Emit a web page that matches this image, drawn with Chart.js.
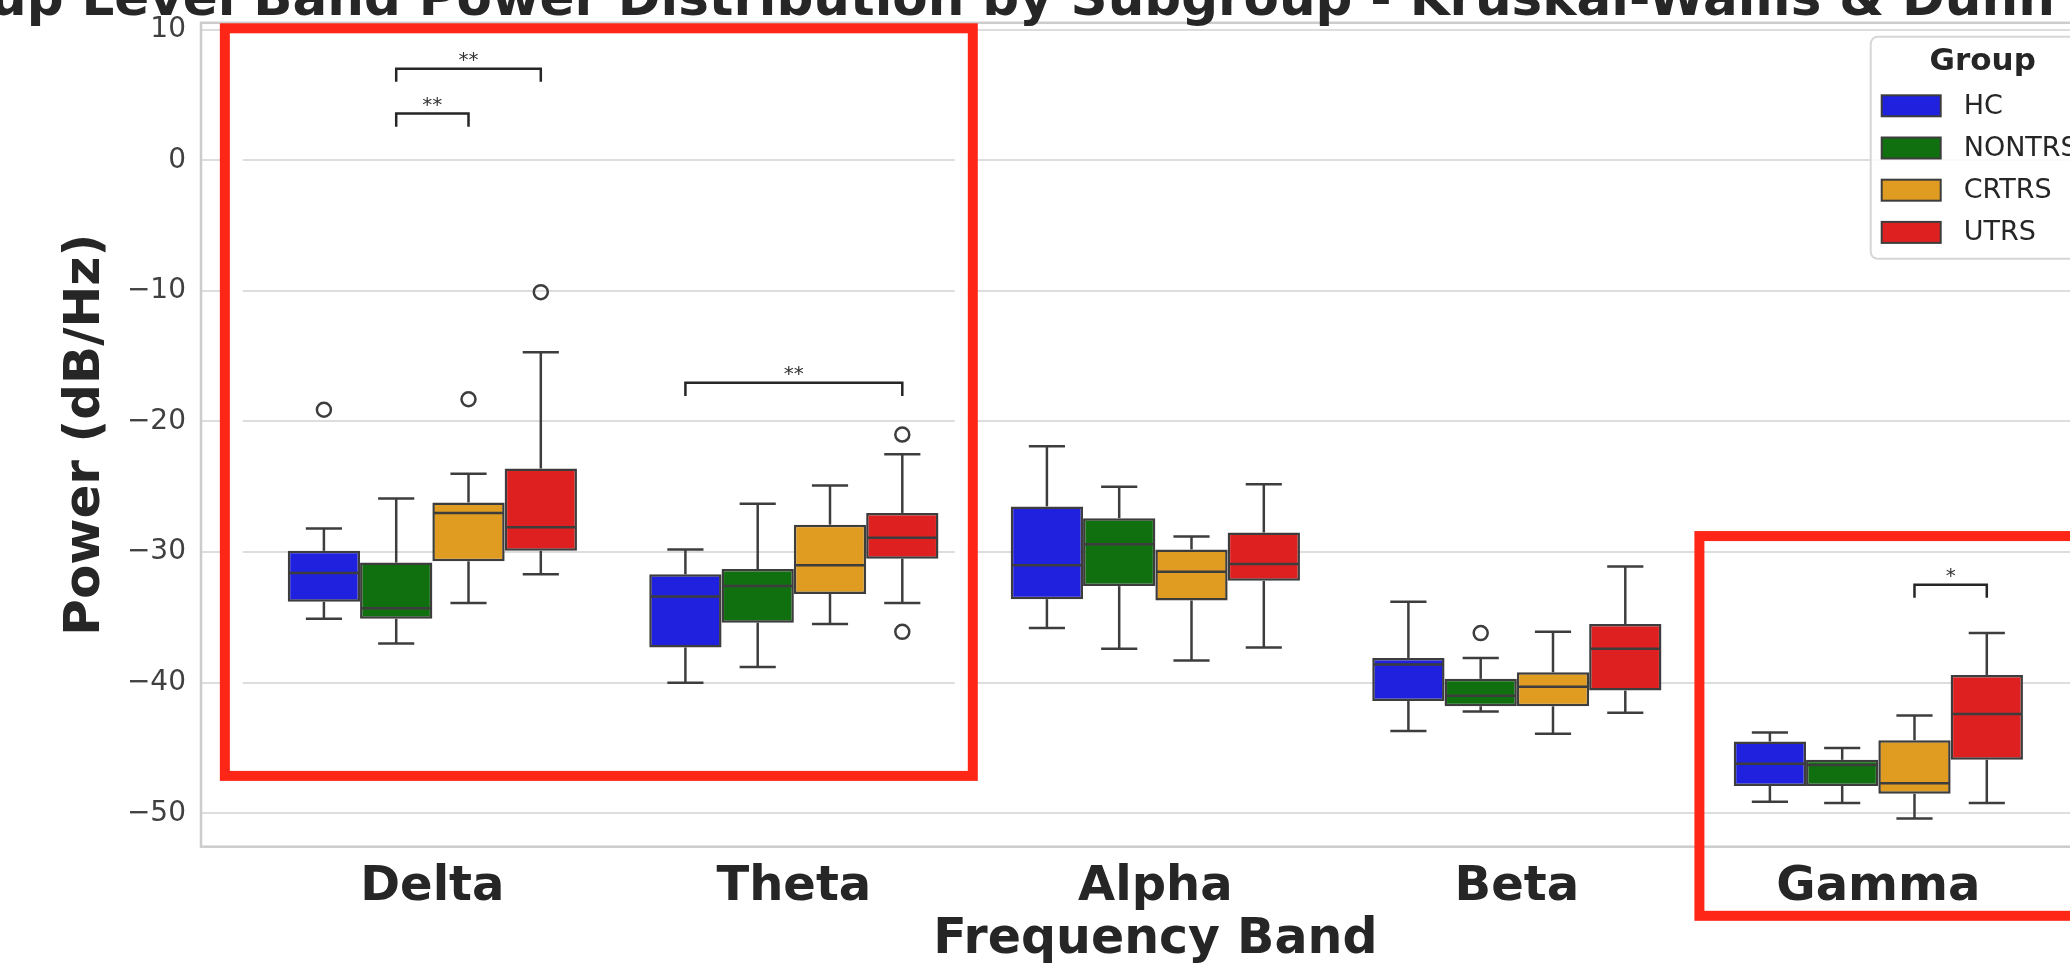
<!DOCTYPE html>
<html>
<head>
<meta charset="utf-8">
<script src="https://cdn.jsdelivr.net/npm/chart.js@4.4.1/dist/chart.umd.min.js"></script>
<style>
  html, body { margin: 0; padding: 0; background: #fff; overflow: hidden; }
  #wrap { position: relative; width: 2200px; height: 970px; }
</style>
</head>
<body>
<div id="wrap"><canvas id="graficoBox"></canvas></div>
<script>
const bands = ['Delta', 'Theta', 'Alpha', 'Beta', 'Gamma'];
const groups = ['HC', 'NONTRS', 'CRTRS', 'UTRS'];
const groupColors = ['#2020df', '#107010', '#df9c20', '#df2020'];
const yTicks = [-50, -40, -30, -20, -10, 0, 10];

// box stats, one row per group (HC, NONTRS, CRTRS, UTRS), one value per band
const whiskerLow = [
  [-35.1, -40.0, -35.8, -43.7, -49.1],
  [-37.0, -38.8, -37.4, -42.2, -49.2],
  [-33.9, -35.5, -38.3, -43.9, -50.4],
  [-31.7, -33.9, -37.3, -42.3, -49.2]
];
const q1 = [
  [-33.8, -37.3, -33.6, -41.4, -47.9],
  [-35.1, -35.4, -32.6, -41.8, -47.9],
  [-30.7, -33.2, -33.7, -41.8, -48.5],
  [-29.9, -30.5, -32.2, -40.6, -45.9]
];
const medians = [
  [-31.6, -33.4, -31.0, -38.6, -46.2],
  [-34.3, -32.6, -29.4, -41.0, -46.3],
  [-27.0, -31.0, -31.5, -40.3, -47.7],
  [-28.1, -28.9, -30.9, -37.4, -42.4]
];
const q3 = [
  [-29.9, -31.7, -26.5, -38.1, -44.5],
  [-30.8, -31.3, -27.4, -39.7, -45.9],
  [-26.2, -27.9, -29.8, -39.2, -44.4],
  [-23.6, -27.0, -28.5, -35.5, -39.4]
];
const whiskerHigh = [
  [-28.2, -29.8, -21.9, -33.8, -43.8],
  [-25.9, -26.3, -25.0, -38.1, -45.0],
  [-24.0, -24.9, -28.8, -36.1, -42.5],
  [-14.7, -22.5, -24.8, -31.1, -36.2]
];
const outliers = [
  [[-19.1], [], [], [], []],
  [[], [], [], [-36.2], []],
  [[-18.3], [], [], [], []],
  [[-10.1], [-21.0, -36.1], [], [], []]
];

// significance brackets (Dunn post-hoc)
const sigBand = [0, 0, 1, 4];
const sigFrom = [1, 1, 0, 2];
const sigTo = [2, 3, 3, 3];
const sigY = [3.57, 7.01, -17.04, -32.5];
const sigText = ['**', '**', '**', '*'];

// red highlight frames, in band / dB units
const highlightX = [[-0.574, 1.495], [3.505, 4.9]];
const highlightY = [[10.1, -47.13], [-28.77, -57.84]];
const highlightInset = [13, 0];

const titleText = 'Group Level Band Power Distribution by Subgroup - Kruskal-Wallis & Dunn\u2019s Test';

const lineGray = '#3d3d3d';
const textDark = '#262626';

Chart.defaults.font.family = "'DejaVu Sans', sans-serif";

function line(ctx, x1, y1, x2, y2) {
  ctx.beginPath();
  ctx.moveTo(x1, y1);
  ctx.lineTo(x2, y2);
  ctx.stroke();
}

const frame = {
  id: 'frame',
  beforeDatasetsDraw(chart) {
    const {ctx, chartArea} = chart;
    ctx.save();
    ctx.strokeStyle = '#cccccc';
    ctx.lineWidth = 2.5;
    ctx.strokeRect(chartArea.left, chartArea.top, chartArea.right - chartArea.left, chartArea.bottom - chartArea.top);
    ctx.restore();
  }
};

const boxExtras = {
  id: 'boxExtras',
  afterDatasetsDraw(chart) {
    const {ctx} = chart;
    const y = chart.scales.y;
    ctx.save();
    ctx.strokeStyle = lineGray;
    ctx.lineWidth = 2.5;
    groups.forEach((g, gi) => {
      chart.getDatasetMeta(gi).data.forEach((bar, bi) => {
        const {x, width} = bar.getProps(['x', 'width'], true);
        const half = width / 2 - 1;
        const cap = width / 4;
        const yLo = y.getPixelForValue(whiskerLow[gi][bi]);
        const yHi = y.getPixelForValue(whiskerHigh[gi][bi]);
        const yQ1 = y.getPixelForValue(q1[gi][bi]);
        const yQ3 = y.getPixelForValue(q3[gi][bi]);
        const yMed = y.getPixelForValue(medians[gi][bi]);
        line(ctx, x, yQ1, x, yLo);
        line(ctx, x, yQ3, x, yHi);
        line(ctx, x - cap, yLo, x + cap, yLo);
        line(ctx, x - cap, yHi, x + cap, yHi);
        line(ctx, x - half, yMed, x + half, yMed);
        outliers[gi][bi].forEach(v => {
          ctx.beginPath();
          ctx.arc(x, y.getPixelForValue(v), 7, 0, Math.PI * 2);
          ctx.stroke();
        });
      });
    });
    ctx.restore();
  }
};

const sigBrackets = {
  id: 'sigBrackets',
  afterDatasetsDraw(chart) {
    const {ctx} = chart;
    const y = chart.scales.y;
    ctx.save();
    ctx.strokeStyle = textDark;
    ctx.lineWidth = 2.5;
    ctx.fillStyle = '#333333';
    ctx.font = "20px 'DejaVu Sans'";
    ctx.textAlign = 'center';
    ctx.textBaseline = 'alphabetic';
    sigBand.forEach((b, i) => {
      const x1 = chart.getDatasetMeta(sigFrom[i]).data[b].x;
      const x2 = chart.getDatasetMeta(sigTo[i]).data[b].x;
      const yTop = y.getPixelForValue(sigY[i]);
      const yEnd = y.getPixelForValue(sigY[i] - 1);
      ctx.beginPath();
      ctx.moveTo(x1, yEnd);
      ctx.lineTo(x1, yTop);
      ctx.lineTo(x2, yTop);
      ctx.lineTo(x2, yEnd);
      ctx.stroke();
      ctx.fillText(sigText[i], (x1 + x2) / 2, yTop - 3);
    });
    ctx.restore();
  }
};

const groupLegend = {
  id: 'groupLegend',
  afterDraw(chart) {
    const {ctx, chartArea} = chart;
    const left = chartArea.right - 239;
    const top = chartArea.top + 14;
    const w = 229, h = 222;
    ctx.save();
    ctx.fillStyle = 'rgba(255,255,255,0.85)';
    ctx.strokeStyle = '#d6d6d6';
    ctx.lineWidth = 2;
    ctx.beginPath();
    ctx.roundRect(left, top, w, h, 7);
    ctx.fill();
    ctx.stroke();
    ctx.fillStyle = textDark;
    ctx.textAlign = 'center';
    ctx.textBaseline = 'middle';
    ctx.font = "bold 31px 'DejaVu Sans'";
    ctx.fillText('Group', left + 112, top + 25);
    ctx.font = "27px 'DejaVu Sans'";
    ctx.textAlign = 'left';
    groups.forEach((g, gi) => {
      const cy = top + 69 + gi * 42.2;
      ctx.fillStyle = groupColors[gi];
      ctx.fillRect(left + 11, cy - 10.5, 59, 21);
      ctx.strokeStyle = lineGray;
      ctx.strokeRect(left + 11, cy - 10.5, 59, 21);
      ctx.fillStyle = textDark;
      ctx.fillText(g, left + 93, cy + 1);
    });
    ctx.restore();
  }
};

const cutTitle = {
  id: 'cutTitle',
  afterDraw(chart) {
    const {ctx, chartArea} = chart;
    ctx.save();
    ctx.fillStyle = textDark;
    ctx.font = "bold 51.5px 'DejaVu Sans'";
    ctx.textAlign = 'left';
    ctx.textBaseline = 'alphabetic';
    ctx.fillText(titleText, chartArea.left - 314, 15);
    ctx.restore();
  }
};

const highlights = {
  id: 'highlights',
  afterDraw(chart) {
    const {ctx} = chart;
    const {x, y} = chart.scales;
    ctx.save();
    highlightX.forEach((hx, i) => {
      const x1 = x.getPixelForValue(hx[0]);
      const x2 = x.getPixelForValue(hx[1]);
      const y1 = y.getPixelForValue(highlightY[i][0]);
      const y2 = y.getPixelForValue(highlightY[i][1]);
      const pad = highlightInset[i];
      if (pad > 0) {
        const o = 5 + pad / 2;
        ctx.strokeStyle = '#ffffff';
        ctx.lineWidth = pad;
        ctx.strokeRect(x1 + o, y1 + o, x2 - x1 - 2 * o, y2 - y1 - 2 * o);
      }
      ctx.strokeStyle = '#fe2616';
      ctx.lineWidth = 10;
      ctx.strokeRect(x1, y1, x2 - x1, y2 - y1);
    });
    ctx.restore();
  }
};

const ctx = document.getElementById('graficoBox');

new Chart(ctx, {
  type: 'bar',
  data: {
    datasets: groups.map((g, gi) => ({
      label: g,
      data: bands.map((b, bi) => ({ x: bi, y: [q1[gi][bi], q3[gi][bi]] })),
      backgroundColor: groupColors[gi],
      borderColor: lineGray,
      borderWidth: 2.5,
      borderSkipped: false,
      categoryPercentage: 0.8,
      barPercentage: 1.0
    }))
  },
  options: {
    responsive: true,
    maintainAspectRatio: false,
    animation: false,
    layout: { padding: { left: 0, top: 22.8, right: 90.3, bottom: 0 } },
    plugins: {
      legend: { display: false },
      tooltip: { enabled: false },
      title: { display: false }
    },
    scales: {
      x: {
        type: 'linear',
        offset: false,
        min: -0.64,
        max: 4.64,
        afterBuildTicks: axis => { axis.ticks = bands.map((b, i) => ({ value: i })); },
        afterFit: axis => {
          axis.height = 123.3;
          axis.paddingLeft = 0;
          axis.paddingRight = 0;
        },
        grid: { display: false, offset: false },
        border: { display: false },
        ticks: {
          callback: v => bands[v],
          font: { size: 48, weight: 'bold' },
          color: textDark,
          padding: 4,
          maxRotation: 0,
          autoSkip: false
        },
        title: {
          display: true,
          text: 'Frequency Band',
          font: { size: 49, weight: 'bold' },
          color: textDark,
          padding: { top: 0, bottom: 0 }
        }
      },
      y: {
        min: -52.55,
        max: 10.52,
        afterBuildTicks: axis => { axis.ticks = yTicks.map(v => ({ value: v })); },
        afterFit: axis => {
          axis.width = 201;
          axis.paddingTop = 0;
          axis.paddingBottom = 0;
        },
        grid: { color: '#dddddd', lineWidth: 2, drawTicks: false },
        border: { display: false },
        ticks: {
          callback: v => (v < 0 ? '\u2212' + Math.abs(v) : String(v)),
          font: { size: 28 },
          color: '#404040',
          padding: 15
        },
        title: {
          display: true,
          text: 'Power (dB/Hz)',
          font: { size: 50, weight: 'bold' },
          color: textDark,
          padding: { top: 56, bottom: 0 }
        }
      }
    }
  },
  plugins: [frame, boxExtras, sigBrackets, groupLegend, cutTitle, highlights]
});
</script>
</body>
</html>
